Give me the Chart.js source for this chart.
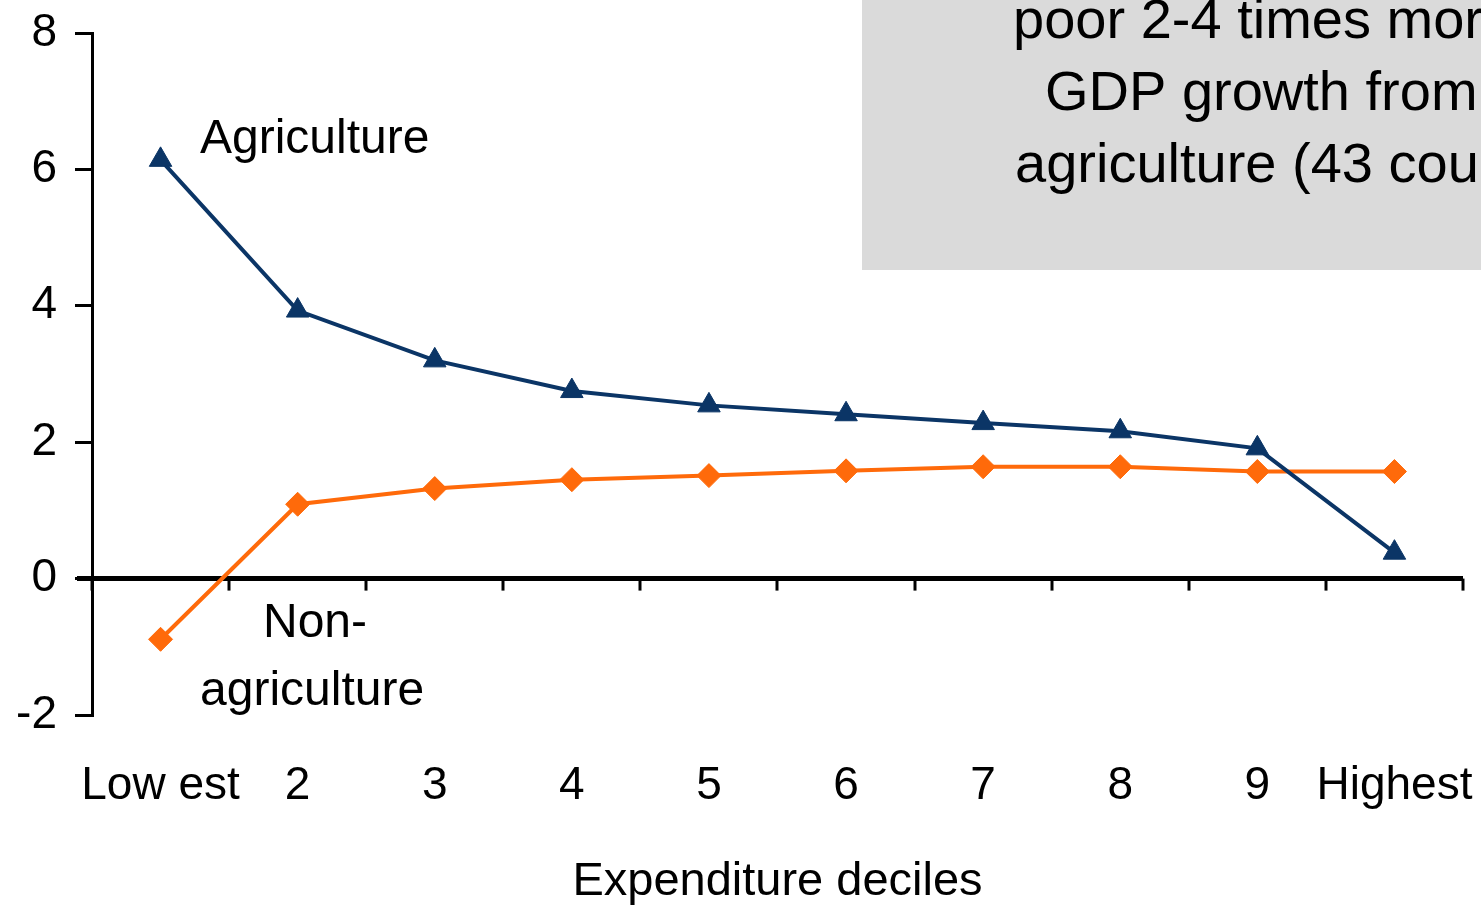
<!DOCTYPE html>
<html>
<head>
<meta charset="utf-8">
<script src="https://cdn.jsdelivr.net/npm/chart.js@4/dist/chart.umd.min.js"></script>
<style>
  html, body { margin: 0; padding: 0; background: #fff; }
  #wrap { width: 1481px; height: 906px; position: relative; }
</style>
</head>
<body>
<div id="wrap"><canvas id="chart"></canvas></div>
<script>
'use strict'

// data
var deciles = ['Low est', '2', '3', '4', '5', '6', '7', '8', '9', 'Highest'];
var agriculture = [6.14, 3.93, 3.2, 2.75, 2.54, 2.41, 2.28, 2.16, 1.91, 0.38];
var nonAgriculture = [-0.89, 1.09, 1.32, 1.45, 1.51, 1.58, 1.64, 1.64, 1.57, 1.57];
var yTicks = [-2, 0, 2, 4, 6, 8];

var boxLines = ['poor 2-4 times more', 'GDP growth from', 'agriculture (43 countries)'];

var FONT = "'Liberation Sans', Arial, sans-serif";

// grey note box behind the chart
var noteBox = {
  id: 'noteBox',
  beforeDraw: function(chart) {
    var ctx = chart.ctx;
    ctx.save();
    ctx.fillStyle = '#dadada';
    ctx.fillRect(862, 0, chart.width - 862, 270);
    ctx.fillStyle = '#000';
    ctx.font = '56px ' + FONT;
    ctx.textBaseline = 'alphabetic';
    ctx.textAlign = 'left';
    ctx.fillText(boxLines[0], 1013, 38);
    ctx.fillText(boxLines[1], 1045, 110);
    ctx.fillText(boxLines[2], 1015, 182);
    ctx.restore();
  }
};

// zero line with tick marks at the category boundaries, plus the series labels
var zeroAxis = {
  id: 'zeroAxis',
  beforeDatasetsDraw: function(chart) {
    var ctx = chart.ctx;
    var x = chart.scales.x;
    var y = chart.scales.y;
    var y0 = y.getPixelForValue(0);
    var area = chart.chartArea;
    var step = x.getPixelForValue(1) - x.getPixelForValue(0);
    ctx.save();
    ctx.strokeStyle = '#000';
    ctx.lineWidth = 5;
    ctx.beginPath();
    ctx.moveTo(area.left - 15, y0);
    ctx.lineTo(area.right, y0);
    ctx.stroke();
    ctx.lineWidth = 3;
    for (var k = 0; k <= deciles.length; k++) {
      var px = Math.round(x.getPixelForValue(0) - step / 2 + k * step);
      ctx.beginPath();
      ctx.moveTo(px, y0);
      ctx.lineTo(px, y0 + 12);
      ctx.stroke();
    }
    ctx.fillStyle = '#000';
    ctx.font = '48px ' + FONT;
    ctx.textAlign = 'left';
    ctx.textBaseline = 'alphabetic';
    ctx.fillText('Agriculture', 200, 153);
    ctx.fillText('Non-', 263, 637);
    ctx.fillText('agriculture', 200, 705);
    ctx.restore();
  }
};

var ctx = document.getElementById('chart').getContext('2d');
var chart = new Chart(ctx, {
  type: 'line',
  data: {
    labels: deciles,
    datasets: [{
      label: 'Agriculture',
      data: agriculture,
      borderColor: '#0b3566',
      backgroundColor: '#0b3566',
      borderWidth: 4,
      pointStyle: 'triangle',
      pointRadius: 13,
      pointBorderWidth: 1,
      tension: 0
    },
    {
      label: 'Non-agriculture',
      data: nonAgriculture,
      borderColor: '#ff6a0a',
      backgroundColor: '#ff6a0a',
      borderWidth: 4,
      pointStyle: 'rectRot',
      pointRadius: 12,
      pointBorderWidth: 1,
      tension: 0
    }]
  },
  options: {
    responsive: true,
    maintainAspectRatio: false,
    animation: false,
    layout: { padding: { top: 33, right: 18, left: 0, bottom: 0 } },
    plugins: {
      legend: { display: false },
      tooltip: { enabled: false }
    },
    scales: {
      x: {
        type: 'category',
        offset: true,
        grid: { display: false, drawTicks: false },
        border: { display: false },
        ticks: {
          color: '#000',
          font: { family: FONT, size: 46 },
          padding: 44,
          maxRotation: 0,
          autoSkip: false
        },
        title: {
          display: true,
          text: 'Expenditure deciles',
          color: '#000',
          font: { family: FONT, size: 47, lineHeight: 1 },
          padding: { top: 0, bottom: 0 }
        },
        afterFit: function(scale) {
          scale.height = 191;
          scale.paddingLeft = 0;
          scale.paddingRight = 0;
        }
      },
      y: {
        min: -2,
        max: 8,
        afterBuildTicks: function(scale) {
          scale.ticks = yTicks.map(function(v) { return { value: v }; });
        },
        grid: {
          display: true,
          drawOnChartArea: false,
          drawTicks: true,
          tickLength: 17,
          color: '#000',
          lineWidth: 3
        },
        border: { display: true, color: '#000', width: 3 },
        ticks: {
          color: '#000',
          font: { family: FONT, size: 46 },
          padding: 18
        },
        afterFit: function(scale) {
          scale.width = 92;
          scale.paddingTop = 0;
          scale.paddingBottom = 0;
        }
      }
    }
  },
  plugins: [noteBox, zeroAxis]
});
</script>
</body>
</html>
